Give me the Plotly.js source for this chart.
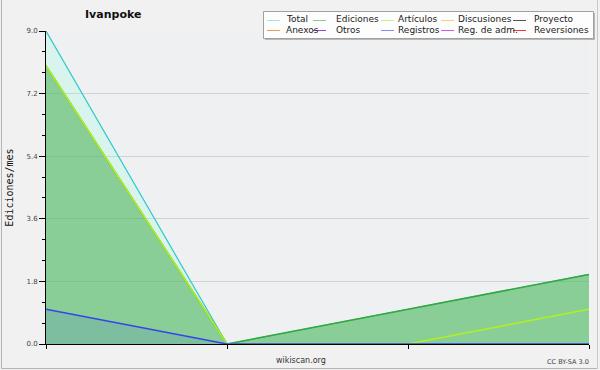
<!DOCTYPE html>
<html>
<head>
<meta charset="utf-8">
<script src="https://cdn.plot.ly/plotly-3.0.1.min.js"></script>
<style>
  html, body { margin: 0; padding: 0; background: #f1f1f1; }
  #chart { width: 600px; height: 370px; }
</style>
</head>
<body>
<div id="chart"></div>
<script>
// ---- data ----
const months = [0, 1, 2, 3];
const total = [9, 0, 1, 2];
const ediciones = [8, 0, 1, 2];
const articulos = [8, 0, 0, 1];
const registros = [1, 0, 0, 0];

const yTickVals = [0, 1.8, 3.6, 5.4, 7.2, 9.0];
const yTickText = ['0.0', '1.8', '3.6', '5.4', '7.2', '9.0'];

const legendNames = ['Total', 'Ediciones', 'Artículos', 'Discusiones', 'Proyecto',
                     'Anexos', 'Otros', 'Registros', 'Reg. de adm.', 'Reversiones'];
const legendColors = ['#a6e2e0', '#86cc8a', '#cdee86', '#f2d272', '#555555',
                      '#f19a5c', '#8a4ccc', '#8a8cee', '#cc5cdc', '#e83a3a'];

// ---- geometry ----
const W = 600, H = 370, L = 46, R = 11, T = 31, B = 26;
const PW = W - L - R, PH = H - T - B;
const px = p => (p - L) / PW;
const py = p => (H - B - p) / PH;

const traces = [
  { x: months, y: total, name: 'Total', mode: 'lines', fill: 'tozeroy',
    line: { color: '#2fcaca', width: 1.2 }, fillcolor: 'rgba(150,255,225,0.25)' },
  { x: months, y: ediciones, name: 'Ediciones', mode: 'lines', fill: 'tozeroy',
    line: { color: '#37a83f', width: 1.5 }, fillcolor: 'rgba(55,168,63,0.5)' },
  { x: months, y: articulos, name: 'Artículos', mode: 'lines',
    line: { color: '#b4f01e', width: 1.5 } },
  { x: months, y: registros, name: 'Registros', mode: 'lines', fill: 'tozeroy',
    line: { color: '#3344ee', width: 1.5 }, fillcolor: 'rgba(51,68,238,0.12)' }
];

// ---- custom legend (two rows x five columns) ----
const colSym = [267, 313, 381, 441, 513];
const colText = [285, 335, 397, 457, 533];
const rowY = [19.5, 29.5];
const shapes = [
  // outer frame
  { type: 'line', xref: 'paper', yref: 'paper', x0: px(1.5), x1: px(1.5), y0: py(0), y1: py(368.5), line: { color: '#b4b4b4', width: 1 } },
  { type: 'line', xref: 'paper', yref: 'paper', x0: px(1.5), x1: px(597.5), y0: py(368.5), y1: py(368.5), line: { color: '#b4b4b4', width: 1 } },
  { type: 'line', xref: 'paper', yref: 'paper', x0: px(597.5), x1: px(597.5), y0: py(0), y1: py(368.5), line: { color: '#c8c8c8', width: 1 } },
  // legend box shadow + box
  { type: 'rect', xref: 'paper', yref: 'paper', x0: px(265), x1: px(595), y0: py(13), y1: py(40), fillcolor: '#b8b8b8', line: { width: 0 } },
  { type: 'rect', xref: 'paper', yref: 'paper', x0: px(263.5), x1: px(593.5), y0: py(11.5), y1: py(38.5), fillcolor: '#fdfdfd', line: { color: '#a0a0a0', width: 1 } }
];
const annotations = [];
legendNames.forEach((name, i) => {
  const c = i % 5, r = Math.floor(i / 5);
  shapes.push({ type: 'line', xref: 'paper', yref: 'paper',
    x0: px(colSym[c]), x1: px(colSym[c] + 13), y0: py(rowY[r] + 1), y1: py(rowY[r] + 1),
    line: { color: legendColors[i], width: 1 } });
  annotations.push({ xref: 'paper', yref: 'paper', x: px(colText[c]), y: py(rowY[r]),
    xanchor: 'left', yanchor: 'middle', text: name, showarrow: false, borderpad: 0,
    font: { family: 'DejaVu Sans', size: 9, color: '#222' } });
});
annotations.push({ xref: 'paper', yref: 'paper', x: px(301), y: py(360.5), xanchor: 'center', yanchor: 'middle',
  text: 'wikiscan.org', showarrow: false, borderpad: 0, font: { family: 'DejaVu Sans', size: 8, color: '#333' } });
annotations.push({ xref: 'paper', yref: 'paper', x: px(590), y: py(362), xanchor: 'right', yanchor: 'middle',
  text: 'CC BY-SA 3.0', showarrow: false, borderpad: 0, font: { family: 'DejaVu Sans', size: 6.5, color: '#444' } });

const layout = {
  width: W, height: H,
  margin: { l: L, r: R, t: T, b: B, pad: 0 },
  paper_bgcolor: '#f1f1f1',
  plot_bgcolor: '#eff0f2',
  showlegend: false,
  title: { text: 'Ivanpoke', xref: 'container', yref: 'container', x: 85 / W, xanchor: 'left',
           y: 1 - 14.5 / H, yanchor: 'middle',
           font: { family: 'DejaVu Sans', size: 11, color: '#111', weight: 'bold' } },
  xaxis: { range: [0, 3], tickvals: months, showticklabels: false, ticks: 'outside', ticklen: 4,
           tickcolor: '#000', showgrid: false, zeroline: false, showline: true, linecolor: '#000',
           linewidth: 1, fixedrange: true },
  yaxis: { range: [0, 9], tickvals: yTickVals, ticktext: yTickText, ticks: 'outside', ticklen: 6,
           tickcolor: '#000', showline: true, linecolor: '#000', linewidth: 1, zeroline: false,
           gridcolor: '#d2d2d2', gridwidth: 1,
           minor: { dtick: 0.6, ticks: 'outside', ticklen: 3, tickcolor: '#000', showgrid: false },
           tickfont: { family: 'DejaVu Sans', size: 7, color: '#444' },
           title: { text: 'Ediciones/mes', standoff: 10,
                    font: { family: 'DejaVu Sans Mono', size: 10, color: '#111' } },
           fixedrange: true },
  shapes: shapes,
  annotations: annotations
};

Plotly.newPlot('chart', traces, layout, { displayModeBar: false, staticPlot: true });
</script>
</body>
</html>
